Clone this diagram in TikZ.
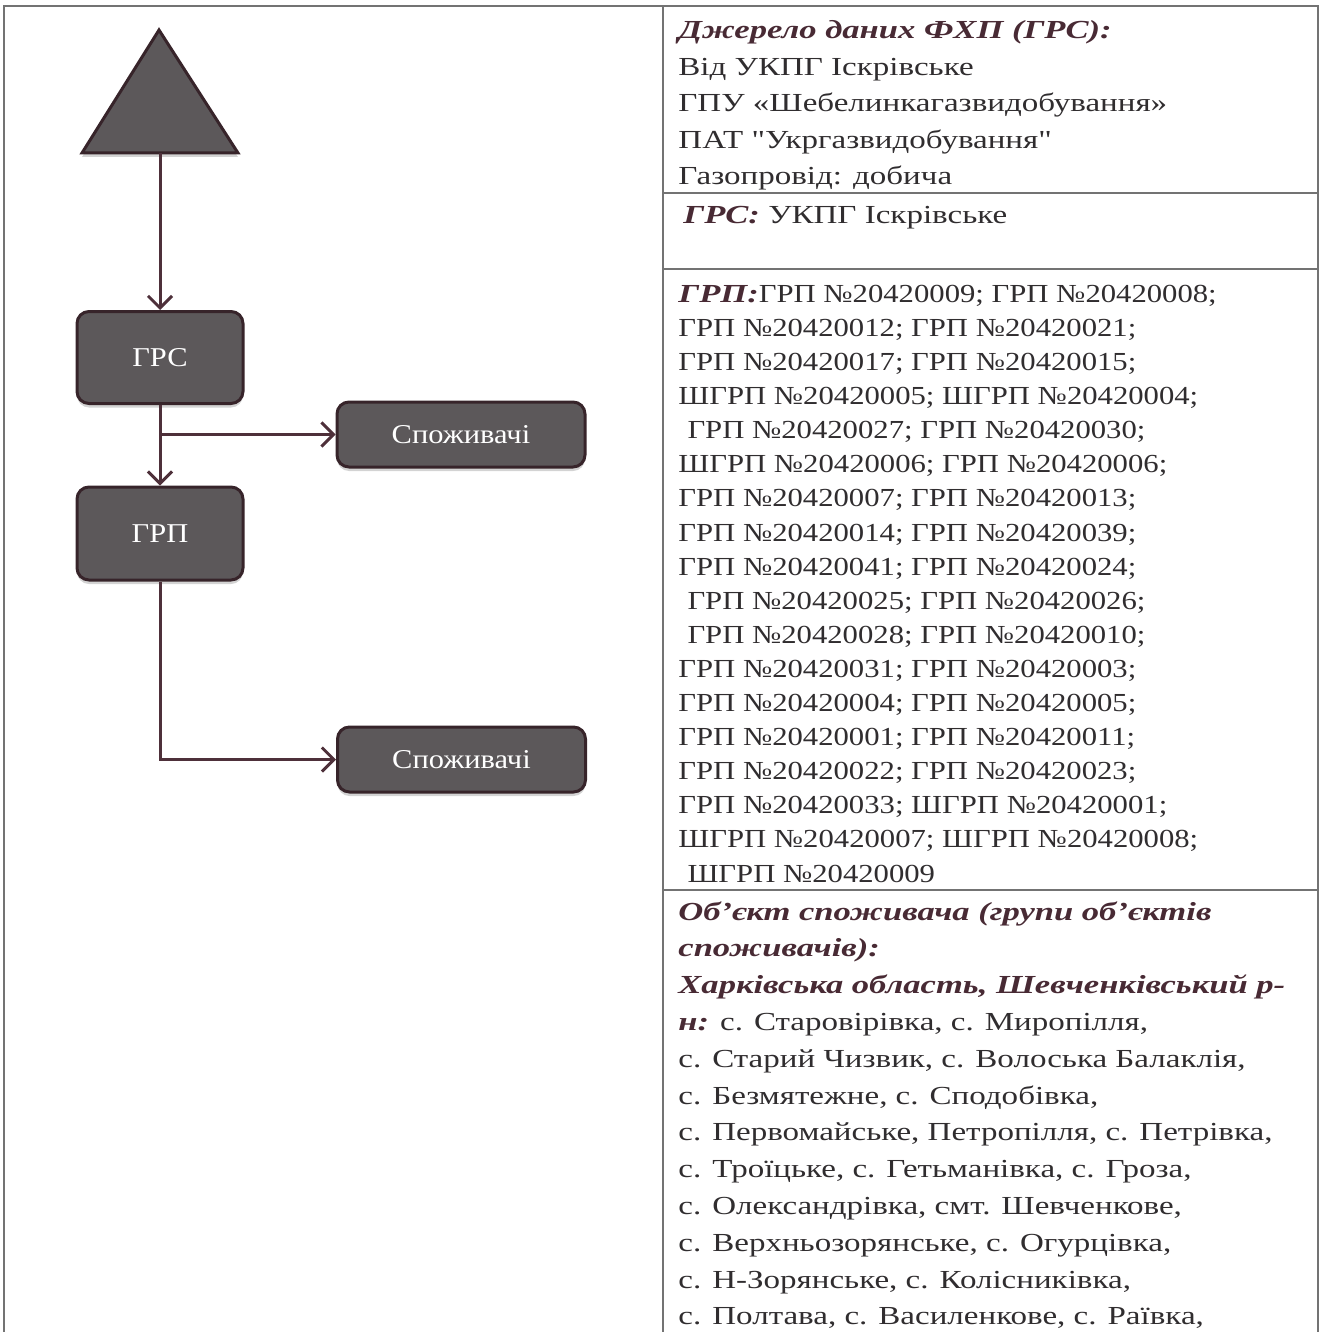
\documentclass[tikz,border=0pt]{standalone}
\usepackage{fontspec}
\newfontfamily\tabfont{Liberation Serif}[FakeStretch=1.27,Ligatures=TeXOff]
\newfontfamily\numfont{Liberation Serif}[FakeStretch=1.18,Ligatures=TeXOff]
\newfontfamily\headfont{Liberation Serif}[FakeStretch=1.33,Ligatures=TeXOff]
\newfontfamily\boxfont{Liberation Serif}[FakeStretch=1.12]
\usetikzlibrary{arrows.meta,shadows}

\definecolor{boxfill}{RGB}{92,88,90}
\definecolor{boxdraw}{RGB}{55,36,42}
\definecolor{wirec}{RGB}{78,48,58}
\definecolor{rulec}{RGB}{115,115,115}
\definecolor{ink}{RGB}{48,45,47}
\definecolor{headink}{RGB}{72,42,52}

\newcommand{\headtxt}[1]{{\headfont\color{headink}\bfseries\itshape #1}}

\begin{document}
\begin{tikzpicture}[x=0.5pt,y=-0.5pt,
	block/.style={draw=boxdraw,fill=boxfill,line width=1.5pt,rounded corners=6pt,text=white,
		font=\boxfont\fontsize{13.6}{16}\selectfont,
		drop shadow={shadow xshift=0pt,shadow yshift=-2pt,opacity=0.35}},
	wire/.style={draw=wirec,line width=1.5pt,-{Straight Barb[length=6pt,width=12pt]}},
	rule/.style={draw=rulec,line width=0.8pt},
	txt/.style={anchor=base west,inner sep=0pt,text=ink,font=\tabfont\fontsize{13}{15}\selectfont},
	numtxt/.style={txt,font=\numfont\fontsize{13}{15}\selectfont}]
	\useasboundingbox (0,0) rectangle (1320,1332);
	% table frame
	\draw[rule] (4,1332) -- (4,6) -- (1318,6) -- (1318,1332);
	\draw[rule] (663,6) -- (663,1332);
	\foreach \y in {193,269,890}
		\draw[rule] (663,\y) -- (1318,\y);
	% scheme
	\draw[draw=boxdraw,fill=boxfill,line width=1.5pt,drop shadow={shadow xshift=0pt,shadow yshift=-2pt,opacity=0.35}] (159,30) -- (238,153) -- (82,153) -- cycle;
	\coordinate (src) at (160,153);
	\node[block,minimum width=83pt,minimum height=46pt] (grs) at (160,357.5) {ГРС};
	\node[block,minimum width=83pt,minimum height=46.5pt] (grp) at (160,533.5) {ГРП};
	\node[block,minimum width=124pt,minimum height=32.5pt] (spo1) at (461,434.5) {Споживачі};
	\node[block,minimum width=124pt,minimum height=32.5pt] (spo2) at (461.5,759.5) {Споживачі};
	\draw[wire] (src) -- (grs);
	\draw[wire] (grs) -- (grp);
	\draw[wire] (grs.south |- spo1.west) -- (spo1);
	\draw[wire] (grp) |- (spo2);
	% data source
	\node[txt] (srcline-1) at (678,38.5) {\headtxt{Джерело даних ФХП (ГРС):}};
	\foreach \t [count=\i from 2] in {Від УКПГ Іскрівське,ГПУ «Шебелинкагазвидобування»,ПАТ "Укргазвидобування",Газопровід: добича}
		\node[txt] (srcline-\i) at (678,{38.5+36.6*(\i-1)}) {\t};
	\node[txt] (grsline) at (683,224) {\headtxt{ГРС:} УКПГ Іскрівське};
	% regulator points
	\foreach \t [count=\i] in {\headtxt{ГРП:}ГРП №20420009; ГРП №20420008;,
		ГРП №20420012; ГРП №20420021;,
		ГРП №20420017; ГРП №20420015;,
		ШГРП №20420005; ШГРП №20420004;,
		\hspace{0.35em}ГРП №20420027; ГРП №20420030;,
		ШГРП №20420006; ГРП №20420006;,
		ГРП №20420007; ГРП №20420013;,
		ГРП №20420014; ГРП №20420039;,
		ГРП №20420041; ГРП №20420024;,
		\hspace{0.35em}ГРП №20420025; ГРП №20420026;,
		\hspace{0.35em}ГРП №20420028; ГРП №20420010;,
		ГРП №20420031; ГРП №20420003;,
		ГРП №20420004; ГРП №20420005;,
		ГРП №20420001; ГРП №20420011;,
		ГРП №20420022; ГРП №20420023;,
		ГРП №20420033; ШГРП №20420001;,
		ШГРП №20420007; ШГРП №20420008;,
		\hspace{0.35em}ШГРП №20420009}
		\node[numtxt] (grpline-\i) at (678,{302.3+34.1*(\i-1)}) {\t};
	% consumers
	\foreach \t [count=\i] in {{\headtxt{Об’єкт споживача (групи об’єктів}},
		{\headtxt{споживачів):}},
		{\headtxt{Харківська область, Шевченківський р-}},
		{\headtxt{н:} с. Старовірівка, с. Миропілля,},
		{с. Старий Чизвик, с. Волоська Балаклія,},
		{с. Безмятежне, с. Сподобівка,},
		{с. Первомайське, Петропілля, с. Петрівка,},
		{с. Троїцьке, с. Гетьманівка, с. Гроза,},
		{с. Олександрівка, смт. Шевченкове,},
		{с. Верхньозорянське, с. Огурцівка,},
		{с. Н-Зорянське, с. Колісниківка,},
		{с. Полтава, с. Василенкове, с. Раївка,}}
		\node[txt] (objline-\i) at (678,{920+36.8*(\i-1)}) {\t};
\end{tikzpicture}
\end{document}
